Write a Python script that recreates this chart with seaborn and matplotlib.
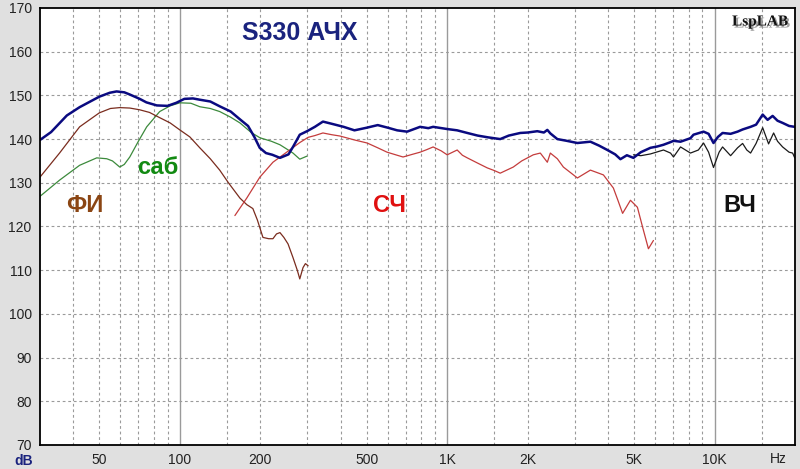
import numpy as np
import pandas as pd
import matplotlib
matplotlib.use("Agg")
import matplotlib.pyplot as plt
import matplotlib.patheffects as pe
from matplotlib.ticker import FixedLocator, NullFormatter, MultipleLocator
import seaborn as sns

# Sum response (blue)
total_f = [30, 33, 37.8, 42.2, 50, 54.7, 58, 62, 65, 70.8, 75, 82, 90, 97, 104, 112, 119, 130,
           141, 155, 168, 180, 190, 199, 210, 222, 237, 255, 265, 281, 299, 320, 343, 370, 410,
           450, 500, 550, 600, 650, 708, 792, 850, 886, 1000, 1090, 1189, 1300, 1420, 1579,
           1700, 1877, 2000, 2173, 2300, 2369, 2431, 2582, 2800, 3069, 3433, 3700, 3973, 4250,
           4446, 4700, 4973, 5300, 5758, 6100, 6442, 6844, 7022, 7460, 8128, 8342, 9096, 9500,
           9910, 10300, 10715, 11482, 12190, 12735, 13638, 14300, 15136, 15790, 16490, 17200,
           17970, 19000, 19950]
total_db = [139.8, 141.6, 145.4, 147.3, 149.7, 150.6, 150.9, 150.7, 150.2, 149.2, 148.4, 147.7,
            147.6, 148.3, 149.2, 149.3, 149.0, 148.6, 147.5, 146.3, 144.5, 143.0, 140.5, 138.0,
            136.8, 136.4, 135.7, 136.5, 138.2, 141.0, 141.8, 142.8, 144.0, 143.5, 142.8, 142.0,
            142.6, 143.2, 142.6, 142.0, 141.7, 142.8, 142.5, 142.8, 142.3, 142.0, 141.4, 140.8,
            140.4, 140.0, 140.8, 141.4, 141.5, 141.8, 141.5, 142.1, 141.3, 140.0, 139.6, 139.1,
            139.4, 138.5, 137.5, 136.5, 135.4, 136.3, 135.7, 137.0, 138.0, 138.3, 138.7, 139.3,
            139.6, 139.4, 140.2, 141.0, 141.7, 141.2, 139.1, 140.5, 141.4, 141.2, 141.7, 142.2,
            142.8, 143.3, 145.6, 144.4, 145.3, 144.2, 143.7, 143.0, 142.8]

# Subwoofer (green)
sub_f = [30, 35.5, 42.2, 48.9, 53.3, 56, 59.6, 62, 65, 70, 75.2, 84.1, 92, 100, 110, 118.8, 130,
         141, 155, 167.8, 185, 199.3, 220, 236.9, 250, 265, 281, 299]
sub_db = [126.9, 130.6, 134.0, 135.7, 135.5, 135.0, 133.6, 134.2, 135.9, 139.5, 142.8, 146.3,
          147.6, 148.3, 148.2, 147.4, 147.0, 146.3, 145.0, 143.7, 141.5, 140.3, 139.5, 138.7,
          137.8, 136.8, 135.4, 136.1]

# Port (brown)
port_f = [30, 35.5, 42.2, 50, 55, 59.6, 65, 70.8, 77, 84.1, 92, 100, 109, 118.8, 130, 141, 152,
          167.8, 178, 187.6, 195, 204.6, 215, 223, 230, 236.9, 245, 254, 265, 275, 281, 289, 295,
          302]
port_db = [131.3, 136.8, 142.8, 146.0, 147.0, 147.2, 147.1, 146.7, 146.1, 144.9, 143.7, 142.1,
           140.5, 138.0, 135.5, 132.9, 130.0, 126.5, 125.0, 124.1, 121.5, 117.5, 117.2, 117.2,
           118.3, 118.6, 117.5, 116.0, 112.9, 110.0, 108.0, 110.6, 111.5, 111.0]

# Midrange (red)
mid_f = [160.7, 178, 199.3, 223, 251, 281, 302, 320, 343, 370, 397, 450, 502, 550, 596, 650, 684,
         740, 792, 840, 886, 950, 1000, 1090, 1140, 1189, 1300, 1413, 1500, 1579, 1767, 1900, 2099,
         2230, 2369, 2431, 2582, 2720, 3069, 3433, 3840, 4184, 4350, 4530, 4846, 5146, 5400, 5658,
         5908]
mid_db = [122.5, 126.5, 131.3, 134.7, 137.0, 139.2, 140.4, 140.8, 141.4, 141.0, 140.7, 139.8,
          139.1, 138.0, 137.0, 136.3, 135.9, 136.5, 137.0, 137.6, 138.2, 137.3, 136.4, 137.5,
          136.3, 135.7, 134.5, 133.4, 132.8, 132.2, 133.6, 135.0, 136.4, 136.8, 134.7, 136.8,
          135.5, 133.6, 131.1, 132.9, 131.8, 128.8, 126.0, 123.0, 126.0, 124.4, 119.5, 114.9,
          116.8]

# Tweeter (black)
hf_f = [4973, 5300, 5758, 6442, 6844, 7022, 7460, 8128, 8700, 9096, 9500, 9910, 10400, 10715,
        11482, 12190, 12735, 13200, 13638, 14300, 15136, 15925, 16630, 17200, 17970, 19000,
        19590, 19950]
hf_db = [136.4, 136.2, 136.6, 137.5, 136.8, 135.9, 138.2, 136.8, 137.5, 139.1, 137.0, 133.5,
         137.0, 138.2, 136.2, 138.0, 139.0, 137.5, 136.8, 139.0, 142.6, 138.9, 141.4, 139.5,
         138.2, 137.0, 136.8, 135.7]

x_major = [50, 100, 200, 500, 1000, 2000, 5000, 10000]
x_major_labels = ["50", "100", "200", "500", "1K", "2K", "5K", "10K"]
x_grid = [40, 50, 60, 70, 80, 90, 150, 200, 300, 400, 500, 600, 700, 800, 900,
          1500, 2000, 3000, 4000, 5000, 6000, 7000, 8000, 9000, 15000]
x_solid = [100, 1000, 10000]
x_minor = [30, 35, 40, 45, 60, 70, 80, 90, 150, 250, 300, 350, 400, 450, 600, 700, 800, 900,
           1500, 2500, 3000, 3500, 4000, 4500, 6000, 7000, 8000, 9000, 15000]

sns.set_style("white")
plt.rcParams["font.family"] = ["Liberation Sans", "DejaVu Sans"]

fig = plt.figure(figsize=(8, 4.69), dpi=100)
fig.patch.set_facecolor("#e0e0e0")
ax = fig.add_axes([0.05, 0.0512, 0.9438, 0.9318])
ax.set_facecolor("white")
ax.set_xscale("log")
ax.set_xlim(30, 20000)
ax.set_ylim(70, 170)

# grid
for g in x_grid:
    ax.axvline(g, color="#9a9a9a", lw=0.8, ls=(0, (2.5, 2.5)), zorder=0)
for g in x_solid:
    ax.axvline(g, color="#9a9a9a", lw=1.0, zorder=0)
for g in range(80, 170, 10):
    ax.axhline(g, color="#9a9a9a", lw=0.8, ls=(0, (2.5, 2.5)), zorder=0)

sns.lineplot(x=sub_f, y=sub_db, ax=ax, color="#3c8a3c", lw=0.9)
sns.lineplot(x=port_f, y=port_db, ax=ax, color="#7a2c1e", lw=0.9)
sns.lineplot(x=mid_f, y=mid_db, ax=ax, color="#c43c3c", lw=0.9)
sns.lineplot(x=hf_f, y=hf_db, ax=ax, color="#1a1a1a", lw=0.9)
sns.lineplot(x=total_f, y=total_db, ax=ax, color="#0a0a80", lw=1.8)

ax.xaxis.set_major_locator(FixedLocator(x_major))
ax.set_xticklabels(x_major_labels)
ax.xaxis.set_minor_locator(FixedLocator(x_minor))
ax.xaxis.set_minor_formatter(NullFormatter())
ax.yaxis.set_major_locator(MultipleLocator(10))
ax.yaxis.set_minor_locator(MultipleLocator(1))
ax.tick_params(axis="both", which="major", direction="out", length=5, width=1,
               color="black", labelsize=10, labelcolor="#222222", pad=1)
ax.tick_params(axis="both", which="minor", direction="out", length=3, width=0.8, color="black")
ax.set_xlabel("")
ax.set_ylabel("")
for s in ax.spines.values():
    s.set_color("black")
    s.set_linewidth(1.3)
    s.set_visible(True)

# texts
ax.text(300 / 800, 1 - 33 / 469, "S330 АЧХ", transform=fig.transFigure, ha="center", va="center",
        fontsize=18, fontweight="bold", color="#1a237e")
fig.text(760 / 800, 1 - 22 / 469, "LspLAB", ha="center", va="center", fontsize=11,
         fontweight="bold", color="#111111", family="Liberation Serif",
         path_effects=[pe.withSimplePatchShadow(offset=(1.5, -1.5), shadow_rgbFace="#888888", alpha=0.8)])
fig.text(85 / 800, 1 - 205 / 469, "ФИ", ha="center", va="center", fontsize=17,
         fontweight="bold", color="#8b4513")
fig.text(158 / 800, 1 - 167 / 469, "саб", ha="center", va="center", fontsize=17,
         fontweight="bold", color="#128a12")
fig.text(389 / 800, 1 - 205 / 469, "СЧ", ha="center", va="center", fontsize=17,
         fontweight="bold", color="#e01010")
fig.text(740 / 800, 1 - 205 / 469, "ВЧ", ha="center", va="center", fontsize=17,
         fontweight="bold", color="#111111")
fig.text(24 / 800, 1 - 461 / 469, "dB", ha="center", va="center", fontsize=10,
         fontweight="bold", color="#1a237e")
fig.text(778 / 800, 1 - 459 / 469, "Hz", ha="center", va="center", fontsize=10,
         color="#222222")

fig.savefig("out.png", dpi=100, facecolor=fig.get_facecolor())
